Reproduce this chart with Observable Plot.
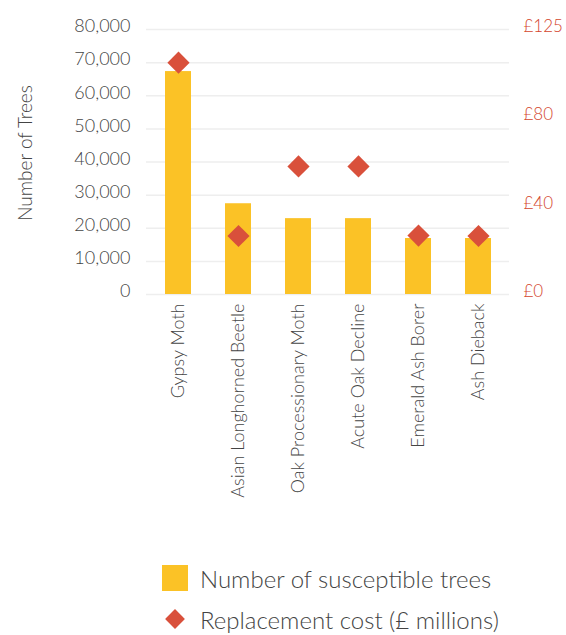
<!DOCTYPE html>
<html>
<head>
<meta charset="utf-8">
<script src="https://cdn.jsdelivr.net/npm/d3@7"></script>
<script src="https://cdn.jsdelivr.net/npm/@observablehq/plot@0.6"></script>
<style>
  body { margin: 0; background: #fff; font-family: Lato, "Open Sans", sans-serif; }
  #wrap { position: relative; width: 566px; height: 635px; }
  .legend { position: absolute; left: 162px; top: 564px; color: #444; font-weight: 300; font-size: 24px; }
  .row { display: flex; align-items: center; height: 28px; margin-bottom: 13px; }
  .sw { width: 26px; height: 26px; margin-right: 12px; flex: none; }
  .dia { width: 14px; height: 14px; transform: rotate(45deg); margin: 0 18px 0 6px; flex: none; }
</style>
</head>
<body>
<div id="wrap">
  <div id="chart"></div>
  <div class="legend">
    <div class="row"><div class="sw" style="background:#FBC226"></div><span id="l1"></span></div>
    <div class="row"><div class="dia" style="background:#D9503B"></div><span id="l2"></span></div>
  </div>
</div>
<script>
const pests = ["Gypsy Moth", "Asian Longhorned Beetle", "Oak Processionary Moth", "Acute Oak Decline", "Emerald Ash Borer", "Ash Dieback"];
const trees = [67300, 27400, 22900, 22900, 16900, 16900];
const costs = [105, 26.5, 58, 58, 26.7, 26.5];
const treeTicks = [0, 10000, 20000, 30000, 40000, 50000, 60000, 70000, 80000];
const costTicks = [0, 40, 80, 120];
const costTickLabels = ["£0", "£40", "£80", "£125"];
const yLabel = "Number of Trees";
const legendLabels = ["Number of susceptible trees", "Replacement cost (£ millions)"];

document.getElementById("l1").textContent = legendLabels[0];
document.getElementById("l2").textContent = legendLabels[1];

const treeMax = 80000, costMax = 120;
const k = treeMax / costMax;
const data = pests.map((p, i) => ({pest: p, trees: trees[i], cost: costs[i]}));
const costLabelMap = new Map(costTicks.map((t, i) => [Math.round(t * k), costTickLabels[i]]));

const chart = Plot.plot({
  width: 566,
  height: 545,
  marginTop: 29,
  marginBottom: 251,
  marginLeft: 146,
  marginRight: 57,
  style: {fontFamily: "Lato, 'Open Sans', sans-serif", fontSize: "18px", fontWeight: 300, color: "#444"},
  x: {domain: pests, paddingInner: 0.57, paddingOuter: 0.285},
  y: {domain: [0, treeMax]},
  marks: [
    Plot.gridY(treeTicks, {stroke: "#eeeeee", strokeWidth: 1.5, strokeOpacity: 1}),
    Plot.barY(data, {x: "pest", y: "trees", fill: "#FBC226"}),
    Plot.dot(data, {x: "pest", y: d => d.cost * k, symbol: "diamond2", r: 10, fill: "#D9503B", stroke: "none"}),
    Plot.axisY(treeTicks, {anchor: "left", tickSize: 0, tickPadding: 16, tickFormat: d => d3.format(",")(d), fill: "#444", fontSize: 18, dy: -3, label: null}),
    Plot.text([yLabel], {frameAnchor: "left", textAnchor: "middle", dx: -121, dy: -9, rotate: -90, fontSize: 19, fill: "#444", text: d => d}),
    Plot.axisY(costTicks.map(t => t * k), {anchor: "right", tickSize: 0, tickPadding: 14, textAnchor: "start",
      tickFormat: d => costLabelMap.get(Math.round(d)), fill: "#D4462D", fontSize: 17, dy: -3, label: null}),
    Plot.axisX({tickSize: 0, tickPadding: 9, tickRotate: -90, fontSize: 18, fill: "#444", label: null})
  ]
});
document.getElementById("chart").appendChild(chart);
</script>
</body>
</html>
